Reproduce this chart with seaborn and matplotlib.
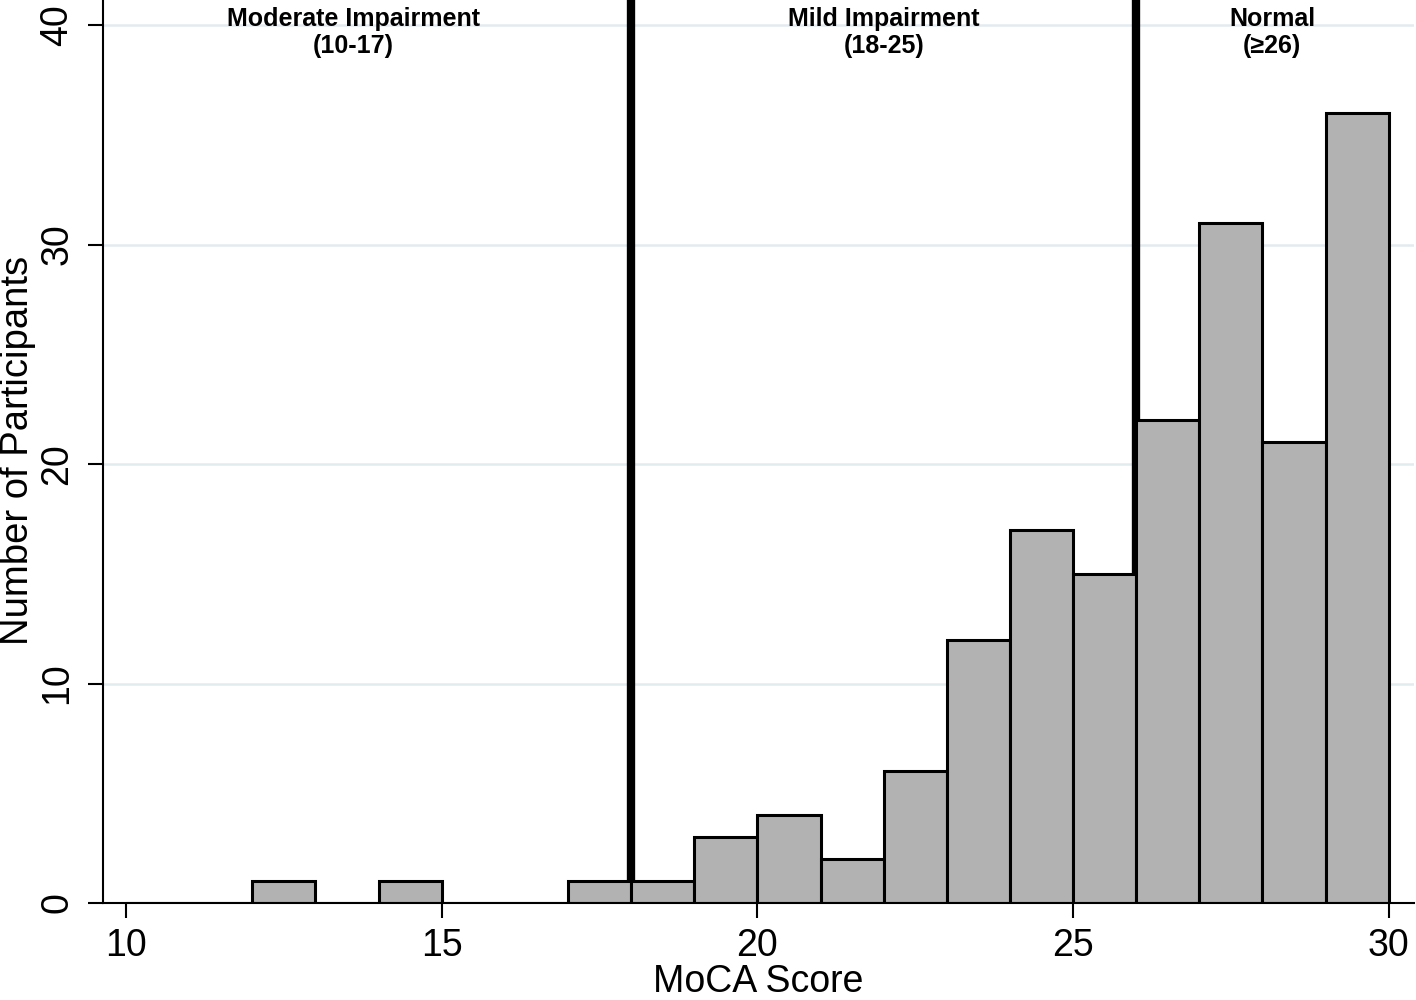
import numpy as np
import pandas as pd
import matplotlib
matplotlib.use("Agg")
import matplotlib.pyplot as plt
import seaborn as sns

# =====================================
# Data
# =====================================
score_bins = [12, 14, 17, 18, 19, 20, 21, 22, 23, 24, 25, 26, 27, 28, 29]
participants = [1, 1, 1, 1, 3, 4, 2, 6, 12, 17, 15, 22, 31, 21, 36]

cutoffs = [18, 26]
band_labels = ["Moderate Impairment\n(10-17)", "Mild Impairment\n(18-25)", "Normal\n(\u226526)"]
band_centers = [13.6, 22.0, 28.15]

x_ticks = [10, 15, 20, 25, 30]
y_ticks = [0, 10, 20, 30, 40]

df = pd.DataFrame({"score": np.array(score_bins) + 0.5, "n": participants})

sns.set_style("white")
plt.rcParams["font.family"] = ["Liberation Sans", "DejaVu Sans"]
plt.rcParams["text.color"] = "black"
plt.rcParams["axes.labelcolor"] = "black"
plt.rcParams["xtick.color"] = "black"
plt.rcParams["ytick.color"] = "black"

fig = plt.figure(figsize=(14.16, 10), dpi=100)
ax = fig.add_axes([103 / 1416, 97 / 1000, 1311 / 1416, 903 / 1000])

# gridlines
for y in y_ticks[1:]:
    ax.axhline(y, color="#e2ebee", lw=1.8, zorder=0)

# category cutoffs (behind the bars)
for c in cutoffs:
    ax.axvline(c, color="black", lw=6, zorder=1)

sns.histplot(data=df, x="score", weights="n", binwidth=1, binrange=(10, 30),
             color="#b2b2b2", alpha=1, edgecolor="black", linewidth=2.2,
             ax=ax, zorder=2)

for xc, lab in zip(band_centers, band_labels):
    ax.text(xc, 40.8, lab, ha="center", va="top", fontsize=18,
            fontweight="bold", linespacing=1.12, color="black", zorder=3)

ax.set_xlim(9.636, 30.4)
ax.set_ylim(0, 41.14)
ax.set_xticks(x_ticks)
ax.set_yticks(y_ticks)
ax.tick_params(axis="both", which="major", bottom=True, left=True,
               length=11, width=1.5, labelsize=27, direction="out",
               color="black", labelcolor="black")
ax.tick_params(axis="x", pad=7)
ax.tick_params(axis="y", pad=9)
for lab in ax.get_yticklabels():
    lab.set_rotation(90)
    lab.set_va("center")

ax.set_xlabel("MoCA Score", fontsize=27, color="black")
ax.set_ylabel("Number of Participants", fontsize=27.5, color="black")
ax.xaxis.set_label_coords((758 - 103) / 1311, (903 - 964) / 903)
ax.yaxis.set_label_coords((18 - 103) / 1311, (903 - 450) / 903)
ax.yaxis.label.set_va("center")

for s in ["top", "right"]:
    ax.spines[s].set_visible(False)
for s in ["left", "bottom"]:
    ax.spines[s].set_linewidth(1.5)
    ax.spines[s].set_color("black")

fig.savefig("out.png", dpi=100, facecolor="white")
plt.close()
